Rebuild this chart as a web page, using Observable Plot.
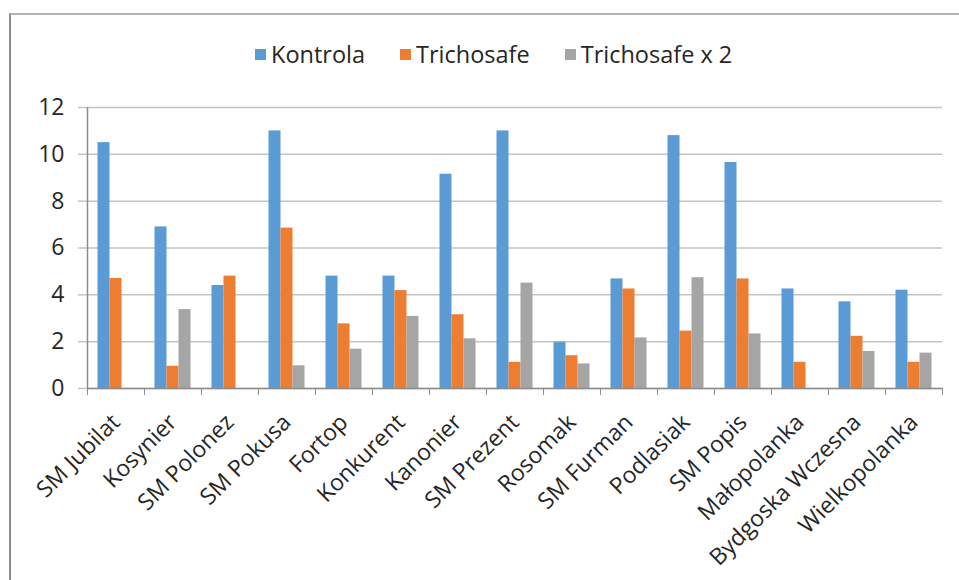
<!DOCTYPE html>
<html>
<head>
<meta charset="utf-8">
<script src="https://cdn.jsdelivr.net/npm/d3@7"></script>
<script src="https://cdn.jsdelivr.net/npm/@observablehq/plot@0.6"></script>
<style>
  html, body { margin: 0; padding: 0; background: #fff; }
  #wrap { position: relative; width: 959px; height: 580px; overflow: hidden; font-family: "Open Sans", sans-serif; }
  #frame { position: absolute; left: 9px; top: 13px; width: 960px; height: 580px; border-left: 2px solid #8c8c8c; border-top: 2px solid #b4b4b4; box-sizing: border-box; }
  #legend { position: absolute; top: 38px; left: 255px; display: flex; align-items: center; font-size: 23.5px; color: #262626; white-space: nowrap; }
  #legend .item { display: flex; align-items: center; margin-right: 35px; }
  #legend .sw { width: 11px; height: 11px; margin-right: 5px; }
  #chart { position: absolute; left: 0; top: 0; }
</style>
</head>
<body>
<div id="wrap">
  <div id="frame"></div>
  <div id="chart"></div>
  <div id="legend"></div>
</div>
<script>
const categories = ["SM Jubilat", "Kosynier", "SM Polonez", "SM Pokusa", "Fortop", "Konkurent", "Kanonier", "SM Prezent", "Rosomak", "SM Furman", "Podlasiak", "SM Popis", "Małopolanka", "Bydgoska Wczesna", "Wielkopolanka"];
const series = ["Kontrola", "Trichosafe", "Trichosafe x 2"];
const colors = ["#5B9BD5", "#ED7D31", "#A5A5A5"];
const kontrola    = [10.5, 6.9, 4.4, 11.0, 4.8, 4.8, 9.15, 11.0, 1.98, 4.68, 10.8, 9.65, 4.25, 3.7, 4.2];
const trichosafe  = [4.7, 0.95, 4.8, 6.85, 2.76, 4.18, 3.15, 1.12, 1.4, 4.25, 2.45, 4.68, 1.12, 2.23, 1.12];
const trichosafe2 = [null, 3.37, null, 0.97, 1.68, 3.08, 2.12, 4.5, 1.05, 2.16, 4.73, 2.33, null, 1.58, 1.51];
const yTicks = [0, 2, 4, 6, 8, 10, 12];

const seriesValues = [kontrola, trichosafe, trichosafe2];
const rows = [];
categories.forEach((c, i) => {
  series.forEach((s, j) => {
    const v = seriesValues[j][i];
    if (v != null) rows.push({category: c, series: s, value: v});
  });
});

const W = 959, H = 580;
const mL = 86.5, mR = 17, mT = 107, mB = 192;
const step = (W - mL - mR) / categories.length;
const axisColor = "#8c8c8c";

const chart = Plot.plot({
  width: W,
  height: H,
  marginTop: mT,
  marginBottom: mB,
  marginLeft: mL,
  marginRight: mR,
  style: {fontFamily: "'Open Sans', sans-serif", fontSize: "22px", color: "#262626", background: "transparent"},
  fx: {domain: categories, padding: 0, label: null},
  x: {domain: series, paddingInner: 0, paddingOuter: 0.75, axis: null},
  y: {domain: [0, 12], label: null},
  color: {domain: series, range: colors},
  marks: [
    Plot.gridY(yTicks, {stroke: "#c4c4c4", strokeOpacity: 1, strokeWidth: 1.5}),
    Plot.axisY(yTicks, {tickSize: 9, stroke: "#c4c4c4", strokeWidth: 1.5, tickPadding: 14, fontSize: 23, fill: "#262626", label: null}),
    Plot.barY(rows, {fx: "category", x: "series", y: "value", fill: "series"}),
    Plot.ruleY([0], {stroke: axisColor, strokeWidth: 1.5}),
    Plot.ruleX(categories, {fx: d => d, x: null, y1: 0, y2: 0, insetBottom: -7, dx: -step / 2, stroke: axisColor}),
    Plot.ruleX([categories[categories.length - 1]], {fx: d => d, x: null, y1: 0, y2: 0, insetBottom: -7, dx: step / 2, stroke: axisColor}),
    Plot.ruleX([categories[0]], {fx: d => d, x: null, y1: 0, y2: 12, dx: -step / 2, stroke: axisColor, strokeWidth: 1.5}),
    Plot.axisFx({anchor: "bottom", tickRotate: -45, tickSize: 0, tickPadding: 30, fontSize: 23, fill: "#262626", label: null})
  ]
});
document.getElementById("chart").appendChild(chart);

const legend = document.getElementById("legend");
series.forEach((s, i) => {
  const item = document.createElement("div");
  item.className = "item";
  const sw = document.createElement("div");
  sw.className = "sw";
  sw.style.background = colors[i];
  const t = document.createElement("span");
  t.textContent = s;
  item.appendChild(sw);
  item.appendChild(t);
  legend.appendChild(item);
});
</script>
</body>
</html>
